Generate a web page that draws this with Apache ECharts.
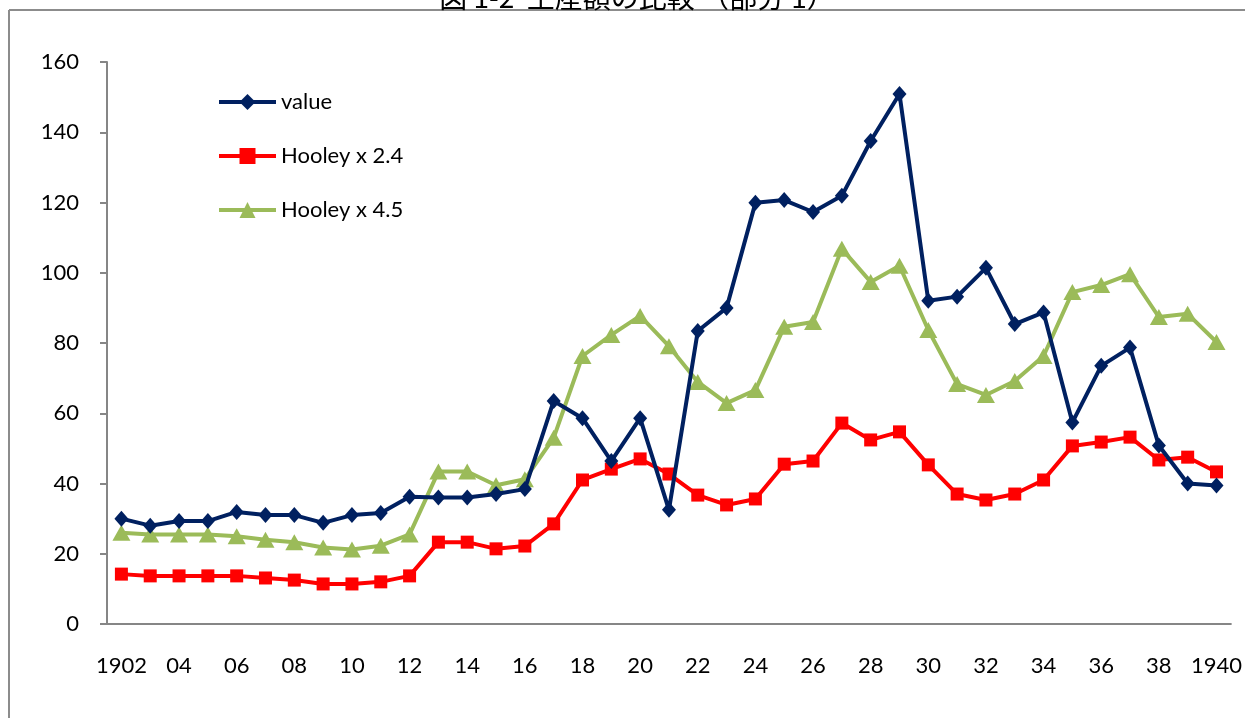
<!DOCTYPE html>
<html>
<head>
<meta charset="utf-8">
<script src="https://cdn.jsdelivr.net/npm/echarts@6/dist/echarts.min.js"></script>
<style>
    html, body { margin: 0; padding: 0; background: #fff; }
    #main { width: 1245px; height: 718px; }
</style>
</head>
<body>
<div id="main"></div>
<script>
// 年次
var years = ['1902', '03', '04', '05', '06', '07', '08', '09', '10', '11',
    '12', '13', '14', '15', '16', '17', '18', '19', '20', '21',
    '22', '23', '24', '25', '26', '27', '28', '29', '30', '31',
    '32', '33', '34', '35', '36', '37', '38', '39', '1940'];
// value
var valueData = [30, 28, 29.3, 29.3, 31.9, 31, 31, 28.8, 31, 31.6,
    36.2, 36, 36, 37, 38.4, 63.5, 58.6, 46.4, 58.6, 32.5,
    83.4, 90, 119.9, 120.7, 117.3, 121.9, 137.5, 150.9, 92, 93.2,
    101.4, 85.4, 88.7, 57.4, 73.5, 78.7, 50.8, 40, 39.4];
// Hooley x 2.4
var hooley24 = [14.2, 13.7, 13.7, 13.7, 13.7, 13.1, 12.5, 11.4, 11.4, 12,
    13.7, 23.3, 23.3, 21.4, 22.2, 28.5, 41, 44.1, 47, 42.7,
    36.7, 33.9, 35.6, 45.5, 46.4, 57.2, 52.4, 54.7, 45.3, 37,
    35.3, 37, 41, 50.7, 51.8, 53.2, 46.7, 47.5, 43.3];
// Hooley x 4.5
var hooley45 = [26, 25.5, 25.5, 25.5, 25, 24, 23.3, 21.8, 21.2, 22.3,
    25.5, 43.4, 43.4, 39.5, 41.2, 53, 76.3, 82.3, 87.7, 79.1,
    68.9, 62.9, 66.6, 84.6, 86, 106.8, 97.4, 102, 83.7, 68.3,
    65.2, 69.2, 76.3, 94.5, 96.5, 99.6, 87.4, 88.3, 80.3];
var yTicks = [0, 20, 40, 60, 80, 100, 120, 140, 160];

var chart = echarts.init(document.getElementById('main'));
var axisGray = '#868686';
var font = 'Lato, "Open Sans", sans-serif';

var option = {
    backgroundColor: '#fff',
    animation: false,
    title: {
        text: '図 1-2  生産額の比較 （部分 1）',
        left: 632,
        textAlign: 'center',
        top: -22,
        textStyle: {
            fontFamily: '"Noto Sans CJK JP", sans-serif',
            fontSize: 28,
            fontWeight: 'normal',
            color: '#000'
        }
    },
    graphic: [{
        type: 'line',
        shape: { x1: 9, y1: 10, x2: 1245, y2: 10 },
        style: { stroke: '#8c8c8c', lineWidth: 2 }
    }, {
        type: 'line',
        shape: { x1: 9, y1: 10, x2: 9, y2: 718 },
        style: { stroke: '#8c8c8c', lineWidth: 2 }
    }],
    grid: {
        left: 107,
        right: 14,
        top: 62,
        bottom: 94
    },
    legend: {
        orient: 'vertical',
        left: 212,
        top: 86,
        itemWidth: 57,
        itemHeight: 20,
        itemGap: 32,
        lineStyle: { width: 4 },
        textStyle: { fontFamily: font, fontSize: 22, color: '#000' },
        data: ['value', 'Hooley x 2.4', 'Hooley x 4.5']
    },
    xAxis: {
        type: 'category',
        data: years,
        boundaryGap: true,
        axisLine: { lineStyle: { color: axisGray, width: 2 } },
        axisTick: { interval: 0, length: 7, lineStyle: { color: axisGray, width: 2 } },
        axisLabel: {
            interval: 1,
            margin: 31,
            fontFamily: font,
            fontSize: 22,
            color: '#000'
        },
        splitLine: { show: false }
    },
    yAxis: {
        type: 'value',
        min: yTicks[0],
        max: yTicks[yTicks.length - 1],
        interval: 20,
        axisLine: { show: true, lineStyle: { color: axisGray, width: 2 } },
        axisTick: { show: true, length: 7, lineStyle: { color: axisGray, width: 2 } },
        axisLabel: {
            margin: 28,
            fontFamily: font,
            fontSize: 22,
            color: '#000'
        },
        splitLine: { show: false }
    },
    series: [{
        name: 'value',
        type: 'line',
        data: valueData,
        symbol: 'diamond',
        symbolSize: [14, 16],
        lineStyle: { width: 4, color: '#002060' },
        itemStyle: { color: '#002060' },
        z: 4
    }, {
        name: 'Hooley x 2.4',
        type: 'line',
        data: hooley24,
        symbol: 'rect',
        symbolSize: 13,
        lineStyle: { width: 4, color: '#ff0000' },
        itemStyle: { color: '#ff0000' },
        z: 2
    }, {
        name: 'Hooley x 4.5',
        type: 'line',
        data: hooley45,
        symbol: 'triangle',
        symbolSize: [18, 16],
        lineStyle: { width: 4, color: '#9bbb59' },
        itemStyle: { color: '#9bbb59' },
        z: 3
    }]
};

chart.setOption(option);
window.addEventListener('resize', function() {
    chart.resize();
});
</script>
</body>
</html>
